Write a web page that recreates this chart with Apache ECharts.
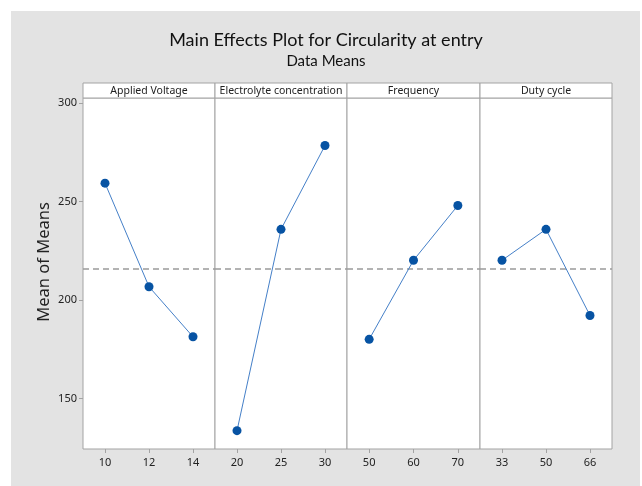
<!DOCTYPE html>
<html>
<head>
<meta charset="utf-8">
<script src="https://cdn.jsdelivr.net/npm/echarts@6/dist/echarts.min.js"></script>
<style>
html,body{margin:0;padding:0;background:#fff;}
#c{width:642px;height:486px;}
</style>
</head>
<body>
<div id="c"></div>
<script>
// ---- data ----
const factorNames = ['Applied Voltage', 'Electrolyte concentration', 'Frequency', 'Duty cycle'];
const voltageLevels = ['10', '12', '14'];
const voltageMeans = [259.3, 206.8, 181.4];
const electrolyteLevels = ['20', '25', '30'];
const electrolyteMeans = [133.8, 235.9, 278.4];
const frequencyLevels = ['50', '60', '70'];
const frequencyMeans = [180.1, 220.2, 248.0];
const dutyLevels = ['33', '50', '66'];
const dutyMeans = [220.2, 235.9, 192.2];
const grandMean = 216;
const yTicks = [150, 200, 250, 300];

const levels = [voltageLevels, electrolyteLevels, frequencyLevels, dutyLevels];
const means = [voltageMeans, electrolyteMeans, frequencyMeans, dutyMeans];

// ---- layout ----
const FONT = 'Noto Sans';
const TITLE_FONT = 'Lato';
const panelLeft = [83, 215, 347, 480];
const panelWidth = [132, 132, 133, 132];
const plotTop = 98, plotBottomGap = 37, headerTop = 83;
const borderColor = '#a3a3a3';

const grids = [], xAxes = [], yAxes = [], series = [], graphics = [];
for (let i = 0; i < 4; i++) {
  grids.push({left: panelLeft[i], width: panelWidth[i], top: plotTop, bottom: plotBottomGap,
    show: true, backgroundColor: '#fff', borderColor: borderColor, borderWidth: 1});
  xAxes.push({type: 'category', gridIndex: i, data: levels[i], boundaryGap: true,
    axisLine: {show: false},
    axisTick: {show: true, alignWithLabel: true, length: 4, lineStyle: {color: borderColor}},
    axisLabel: {fontFamily: FONT, fontSize: 11, color: '#222', margin: 8},
    splitLine: {show: false}});
  yAxes.push({type: 'value', gridIndex: i, min: 124.5, max: 302.5,
    axisLine: {show: false},
    axisTick: {show: i === 0, length: 4, customValues: yTicks, lineStyle: {color: borderColor}},
    axisLabel: {show: i === 0, fontFamily: FONT, fontSize: 11, color: '#222', margin: 6, customValues: yTicks},
    splitLine: {show: false}});
  series.push({type: 'line', xAxisIndex: i, yAxisIndex: i, data: means[i],
    symbol: 'circle', symbolSize: 9, z: 5,
    itemStyle: {color: '#0753a3'},
    lineStyle: {color: '#4580c8', width: 1},
    markLine: {silent: true, symbol: 'none', label: {show: false},
      lineStyle: {color: '#9a9a9a', type: [6, 4], width: 1.5},
      data: [{yAxis: grandMean}]}});
  graphics.push({type: 'rect', shape: {x: panelLeft[i], y: headerTop, width: panelWidth[i], height: plotTop - headerTop},
    style: {fill: '#fff', stroke: borderColor, lineWidth: 1}});
  graphics.push({type: 'text', x: panelLeft[i] + panelWidth[i] / 2, y: headerTop + (plotTop - headerTop) / 2 + 1,
    style: {text: factorNames[i], fontFamily: FONT, fontSize: 10.5, fill: '#222', align: 'center', verticalAlign: 'middle'}});
}
graphics.unshift({type: 'rect', z: -10, shape: {x: 11, y: 11, width: 629, height: 475}, style: {fill: '#e3e3e3'}});
graphics.push({type: 'text', x: 44, y: 262, rotation: Math.PI / 2,
  style: {text: 'Mean of Means', fontFamily: FONT, fontSize: 16.5, fill: '#222', align: 'center', verticalAlign: 'middle'}});

const chart = echarts.init(document.getElementById('c'), null, {renderer: 'canvas'});
chart.setOption({
  animation: false,
  backgroundColor: '#fff',
  title: {text: 'Main Effects Plot for Circularity at entry', subtext: 'Data Means',
    left: 321, textAlign: 'center', top: 26, itemGap: 5,
    textStyle: {fontFamily: TITLE_FONT, fontSize: 18, fontWeight: 'normal', color: '#111'},
    subtextStyle: {fontFamily: TITLE_FONT, fontSize: 15, color: '#111'}},
  graphic: graphics,
  grid: grids,
  xAxis: xAxes,
  yAxis: yAxes,
  series: series
});
</script>
</body>
</html>
